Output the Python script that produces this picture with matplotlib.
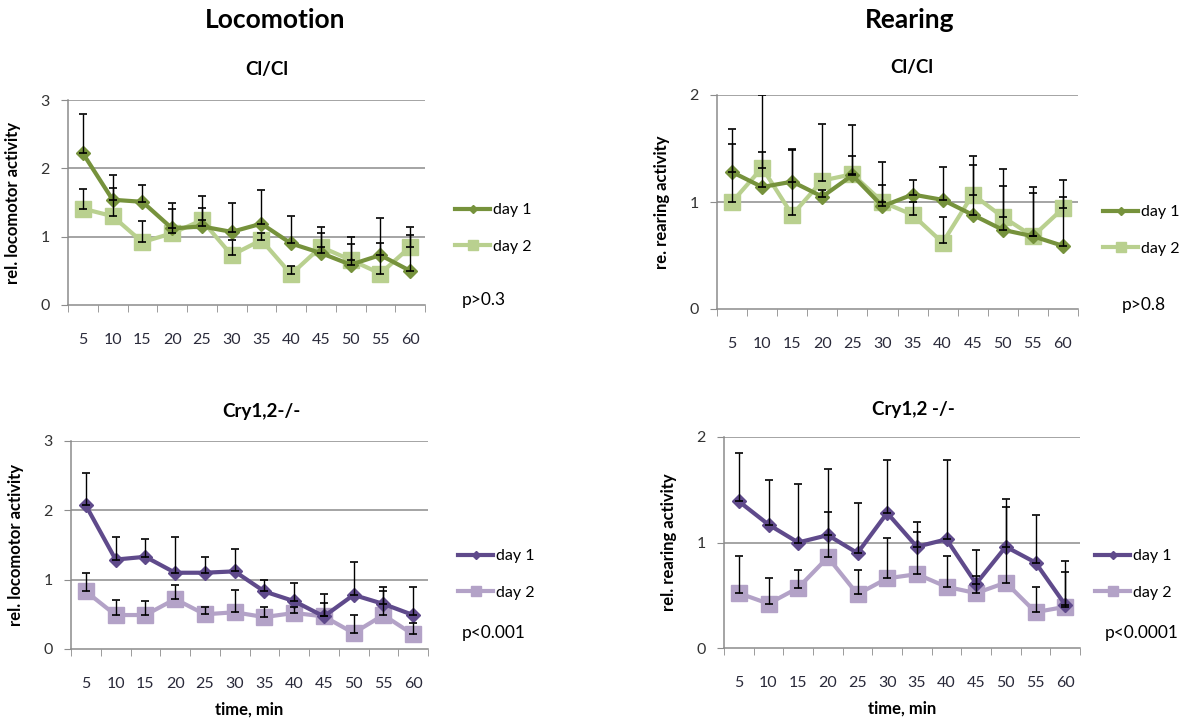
import matplotlib
matplotlib.use('Agg')
import matplotlib.pyplot as plt
import numpy as np

plt.rcParams['font.family'] = ['Lato', 'DejaVu Sans']

W, H = 1187, 719

minutes = ['5', '10', '15', '20', '25', '30', '35', '40', '45', '50', '55', '60']

# locomotion, Cl/Cl
loc_cl_d1 = [2.22, 1.54, 1.51, 1.12, 1.15, 1.07, 1.19, 0.90, 0.76, 0.59, 0.73, 0.50]
loc_cl_d1_top = [2.79, 1.90, 1.76, 1.49, 1.42, 1.49, 1.68, 1.30, 1.14, 0.99, 1.27, 1.14]
loc_cl_d2 = [1.41, 1.30, 0.92, 1.05, 1.24, 0.73, 0.95, 0.45, 0.85, 0.66, 0.46, 0.85]
loc_cl_d2_top = [1.70, 1.71, 1.23, 1.41, 1.60, 0.95, 1.05, 0.57, 1.06, 0.89, 0.90, 1.02]

# rearing, Cl/Cl
rear_cl_d1 = [1.28, 1.14, 1.19, 1.05, 1.25, 0.96, 1.07, 1.02, 0.88, 0.74, 0.68, 0.59]
rear_cl_d1_top = [1.68, 2.00, 1.50, 1.11, 1.43, 1.16, 1.21, 1.33, 1.35, 1.15, 1.08, 1.21]
rear_cl_d2 = [1.00, 1.32, 0.88, 1.20, 1.26, 1.00, 0.88, 0.62, 1.07, 0.86, 0.68, 0.94]
rear_cl_d2_top = [1.54, 1.47, 1.49, 1.73, 1.72, 1.37, 1.00, 0.86, 1.43, 1.31, 1.14, 1.05]

# locomotion, Cry1,2-/-
loc_cry_d1 = [2.07, 1.29, 1.33, 1.10, 1.10, 1.12, 0.83, 0.69, 0.47, 0.78, 0.65, 0.49]
loc_cry_d1_top = [2.54, 1.61, 1.59, 1.62, 1.33, 1.44, 0.99, 0.95, 0.80, 1.26, 0.90, 0.90]
loc_cry_d2 = [0.83, 0.49, 0.49, 0.72, 0.50, 0.53, 0.46, 0.52, 0.47, 0.23, 0.49, 0.21]
loc_cry_d2_top = [1.10, 0.71, 0.69, 0.92, 0.60, 0.85, 0.61, 0.60, 0.66, 0.49, 0.83, 0.38]

# rearing, Cry1,2 -/-
rear_cry_d1 = [1.39, 1.17, 1.00, 1.07, 0.90, 1.28, 0.96, 1.03, 0.61, 0.96, 0.81, 0.41]
rear_cry_d1_top = [1.85, 1.59, 1.55, 1.70, 1.37, 1.78, 1.19, 1.78, 0.93, 1.41, 1.26, 0.82]
rear_cry_d2 = [0.52, 0.42, 0.57, 0.86, 0.51, 0.66, 0.70, 0.58, 0.52, 0.62, 0.34, 0.39]
rear_cry_d2_top = [0.87, 0.66, 0.74, 1.29, 0.74, 1.04, 1.10, 0.87, 0.68, 1.34, 0.58, 0.72]

green1, green2 = '#76923C', '#B9D08F'
purple1, purple2 = '#5F4A8B', '#B3A2C7'


def px_axes(fig, x0, y0, x1, y1):
    return fig.add_axes([x0 / W, 1 - y1 / H, (x1 - x0) / W, (y1 - y0) / H])


def panel(ax, d1, d1_top, d2, d2_top, c1, c2, ymax, ylabel, xlabel=None):
    x = np.arange(1, len(minutes) + 1)
    for i in range(1, ymax + 1):
        ax.axhline(i, color='#8c8c8c', lw=1.1, zorder=0)
    l1, = ax.plot(x, d1, color=c1, lw=3, marker='D', ms=7, zorder=3, label='day 1')
    l2, = ax.plot(x, d2, color=c2, lw=3, marker='s', ms=11, zorder=2, label='day 2')
    # error bars: upper side only
    for vals, top in [(d1, d1_top), (d2, d2_top)]:
        up = np.array(top) - np.array(vals)
        ax.errorbar(x, vals, yerr=[np.zeros(len(vals)), up], fmt='none',
                    ecolor='black', elinewidth=1, capsize=3, capthick=1.2, zorder=4)
    ax.set_xlim(0.5, len(minutes) + 0.5)
    ax.set_ylim(0, ymax)
    ax.set_yticks(range(0, ymax + 1))
    ax.set_xticks(x)
    ax.set_xticklabels(minutes)
    ax.set_xticks(np.arange(0.5, len(minutes) + 1), minor=True)
    ax.tick_params(axis='x', which='major', length=0, pad=20, labelsize=11.5,
                   labelcolor='#2a2a3a')
    ax.tick_params(axis='x', which='minor', length=5, color='#8c8c8c', direction='out')
    ax.tick_params(axis='y', length=5, color='#8c8c8c', labelsize=11.5,
                   labelcolor='#333333', pad=8)
    for s in ['top', 'right']:
        ax.spines[s].set_visible(False)
    for s in ['left', 'bottom']:
        ax.spines[s].set_color('#8c8c8c')
        ax.spines[s].set_linewidth(1.1)
    ax.set_ylabel(ylabel, fontsize=12, fontweight='bold', labelpad=14)
    if xlabel:
        ax.set_xlabel(xlabel, fontsize=12, fontweight='bold', labelpad=8)
    return l1, l2


def add_legend(fig, handles, x, y):
    fig.legend(handles, ['day 1', 'day 2'], loc='upper left',
               bbox_to_anchor=(x / W, 1 - y / H), frameon=False, fontsize=11.5,
               handlelength=2.2, labelspacing=1.4, handletextpad=0.2,
               markerscale=0.65, borderpad=0, borderaxespad=0)


fig = plt.figure(figsize=(W / 100, H / 100), dpi=100)

ax1 = px_axes(fig, 68, 100, 425, 305)
h = panel(ax1, loc_cl_d1, loc_cl_d1_top, loc_cl_d2, loc_cl_d2_top, green1, green2, 3,
          'rel. locomotor activity')
add_legend(fig, h, 455, 203)
fig.text(462 / W, 1 - 300 / H, 'p>0.3', fontsize=12.5, va='center')

ax2 = px_axes(fig, 717, 95, 1078, 309)
h = panel(ax2, rear_cl_d1, rear_cl_d1_top, rear_cl_d2, rear_cl_d2_top, green1, green2, 2,
          're. rearing activity')
add_legend(fig, h, 1103, 205)
fig.text(1122 / W, 1 - 305 / H, 'p>0.8', fontsize=12.5, va='center')

ax3 = px_axes(fig, 71, 441, 428, 649)
h = panel(ax3, loc_cry_d1, loc_cry_d1_top, loc_cry_d2, loc_cry_d2_top, purple1, purple2, 3,
          'rel. locomotor activity', xlabel='time, min')
add_legend(fig, h, 458, 549)
fig.text(462 / W, 1 - 633 / H, 'p<0.001', fontsize=12.5, va='center')

ax4 = px_axes(fig, 724, 437, 1080, 648)
h = panel(ax4, rear_cry_d1, rear_cry_d1_top, rear_cry_d2, rear_cry_d2_top, purple1, purple2, 2,
          'rel. rearing activity', xlabel='time, min')
add_legend(fig, h, 1095, 549)
fig.text(1105 / W, 1 - 633 / H, 'p<0.0001', fontsize=12.5, va='center')

# titles
fig.text(275 / W, 1 - 20 / H, 'Locomotion', fontsize=19, fontweight='bold', ha='center', va='center')
fig.text(910 / W, 1 - 20 / H, 'Rearing', fontsize=19, fontweight='bold', ha='center', va='center')
fig.text(267 / W, 1 - 70 / H, 'Cl/Cl', fontsize=13.5, fontweight='bold', ha='center', va='center')
fig.text(912 / W, 1 - 68 / H, 'Cl/Cl', fontsize=13.5, fontweight='bold', ha='center', va='center')
fig.text(261 / W, 1 - 412 / H, 'Cry1,2-/-', fontsize=13.5, fontweight='bold', ha='center', va='center')
fig.text(913 / W, 1 - 410 / H, 'Cry1,2 -/-', fontsize=13.5, fontweight='bold', ha='center', va='center')

fig.savefig('out.png', dpi=100)
plt.close(fig)
